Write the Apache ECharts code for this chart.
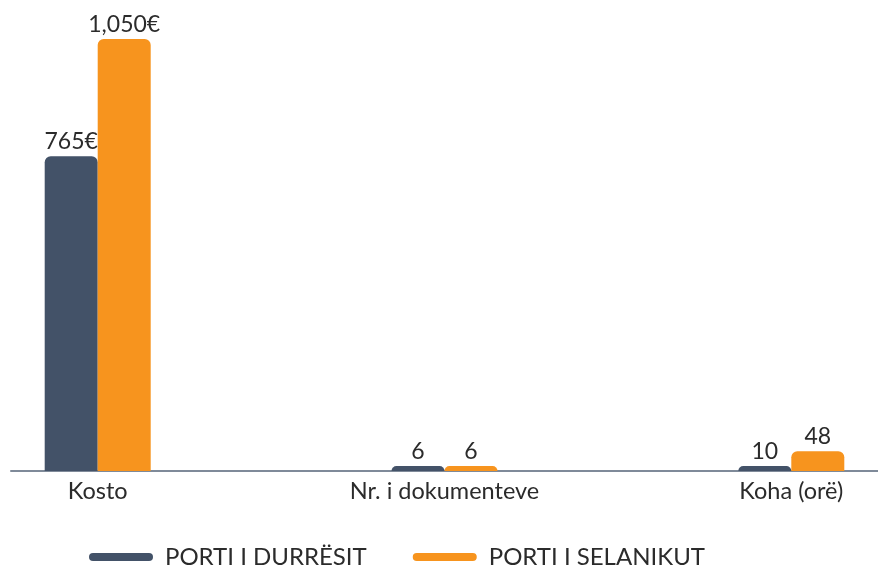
<!DOCTYPE html>
<html>
<head>
<meta charset="utf-8">
<script src="https://cdn.jsdelivr.net/npm/echarts@6/dist/echarts.min.js"></script>
<style>
  html, body { margin: 0; padding: 0; background: #fff; }
  #chart { width: 878px; height: 567px; }
</style>
</head>
<body>
<div id="chart"></div>
<script>
// categories (blank slots keep the wide spacing between groups)
var categories = ['Kosto', '', 'Nr. i dokumenteve', '', 'Koha (orë)'];
var durresValues = [765, null, 6, null, 10];
var selanikValues = [1050, null, 6, null, 48];
var seriesNames = ['PORTI I DURRËSIT', 'PORTI I SELANIKUT'];
var euroIndex = 0; // only Kosto gets the € sign

var chart = echarts.init(document.getElementById('chart'));

function fmtLabel(p) {
  var v = p.value;
  var s = v >= 1000 ? Math.floor(v / 1000) + ',' + String(v % 1000).padStart(3, '0') : String(v);
  return p.dataIndex === euroIndex ? s + '€' : s;
}

var labelStyle = {
  show: true,
  position: 'top',
  distance: 3,
  fontFamily: 'Lato',
  fontSize: 23,
  color: '#2b2b2b',
  formatter: fmtLabel
};

var pill = 'path://M4,0 H60 A4,4 0 0 1 60,8 H4 A4,4 0 0 1 4,0 Z';

var option = {
  animation: false,
  grid: { left: 11, right: 0, top: 39, bottom: 96 },
  legend: {
    left: 84,
    top: 540,
    itemWidth: 64,
    itemHeight: 9,
    itemGap: 46,
    textStyle: { fontFamily: 'Lato', fontSize: 24, color: '#2b2b2b', padding: [0, 0, 0, 7] },
    data: [
      { name: seriesNames[0], icon: pill },
      { name: seriesNames[1], icon: pill }
    ]
  },
  xAxis: {
    type: 'category',
    data: categories,
    axisLine: { lineStyle: { color: '#7f8a99', width: 2 } },
    axisTick: { show: false },
    axisLabel: { margin: 8, fontFamily: 'Lato', fontSize: 23.5, color: '#2b2b2b', interval: 0 }
  },
  yAxis: {
    type: 'value',
    min: 0,
    max: 1050,
    show: false,
    splitLine: { show: false }
  },
  series: [
    {
      name: seriesNames[0],
      type: 'bar',
      data: durresValues,
      barWidth: 53,
      barGap: '0%',
      barMinHeight: 5,
      color: '#435268',
      itemStyle: { borderRadius: [6, 6, 0, 0] },
      label: labelStyle
    },
    {
      name: seriesNames[1],
      type: 'bar',
      data: selanikValues,
      barWidth: 53,
      barGap: '0%',
      barMinHeight: 5,
      color: '#F7941E',
      itemStyle: { borderRadius: [6, 6, 0, 0] },
      label: labelStyle
    }
  ]
};

chart.setOption(option);
</script>
</body>
</html>
